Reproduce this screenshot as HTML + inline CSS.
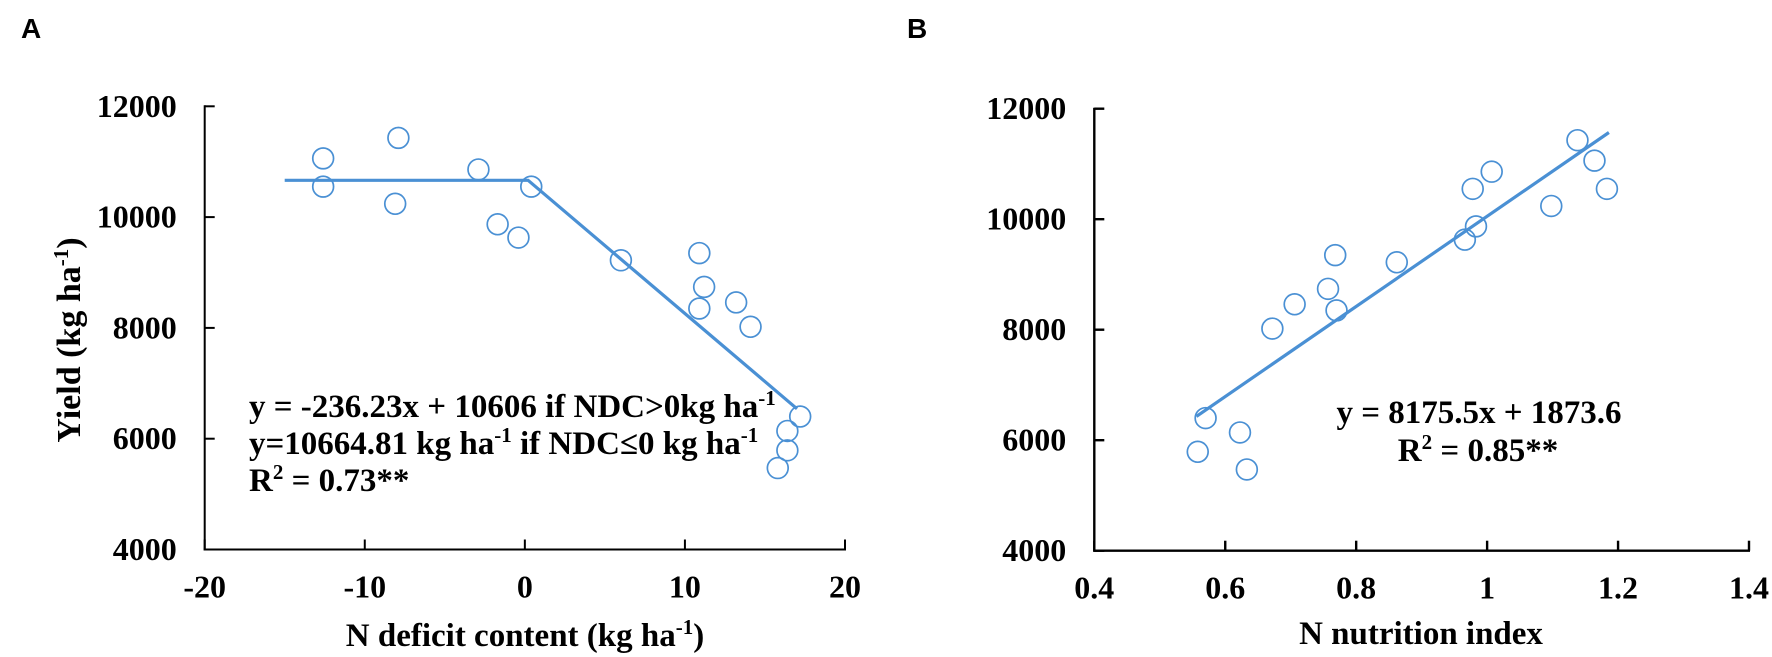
<!DOCTYPE html>
<html lang="en">
<head>
<meta charset="utf-8">
<title>Yield vs N deficit content and N nutrition index</title>
<style>
html,body{margin:0;padding:0;background:#fff;width:1772px;height:657px;overflow:hidden}
svg{display:block}
text{font-family:"Liberation Serif",serif;font-weight:bold;fill:#000}
.panel{font-family:"Liberation Sans",sans-serif;font-size:28px}
.tick{font-size:32px}
.title{font-size:33px}
.ytitle{font-size:34px}
.note{font-size:33px}
</style>
</head>
<body>
<svg id="chart" xmlns="http://www.w3.org/2000/svg" width="1772" height="657" viewBox="0 0 1772 657">
  <rect width="1772" height="657" fill="#fff"/>
  <text class="panel" x="21" y="38">A</text>
  <text class="panel" x="907" y="38">B</text>

  <g id="panelA"></g>
  <g id="panelB"></g>

  <text class="ytitle" transform="translate(80,340) rotate(-90)" text-anchor="middle">Yield (kg ha<tspan font-size="21" dy="-12">-1</tspan><tspan dy="12">)</tspan></text>
  <text class="title" x="525" y="646" text-anchor="middle">N deficit content (kg ha<tspan font-size="21" dy="-12">-1</tspan><tspan dy="12">)</tspan></text>
  <text class="title" x="1421" y="644" text-anchor="middle">N nutrition index</text>

  <text class="note" x="249" y="417">y = -236.23x + 10606 if NDC&gt;0kg ha<tspan font-size="21" dy="-12">-1</tspan></text>
  <text class="note" x="249" y="454">y=10664.81 kg ha<tspan font-size="21" dy="-12">-1</tspan><tspan dy="12"> if NDC≤0 kg ha</tspan><tspan font-size="21" dy="-12">-1</tspan></text>
  <text class="note" x="249" y="491">R<tspan font-size="21" dy="-12">2</tspan><tspan dy="12"> = 0.73**</tspan></text>

  <text class="note" x="1479" y="423" text-anchor="middle">y = 8175.5x + 1873.6</text>
  <text class="note" x="1478" y="461" text-anchor="middle">R<tspan font-size="21" dy="-12">2</tspan><tspan dy="12"> = 0.85**</tspan></text>
</svg>
<script>
var yieldTicks = [4000, 6000, 8000, 10000, 12000];
var ndcTicks = [-20, -10, 0, 10, 20];
var nniTicks = [0.4, 0.6, 0.8, 1, 1.2, 1.4];
var nniTickLabels = ['0.4', '0.6', '0.8', '1', '1.2', '1.4'];
var ndcTickLabels = ['-20', '-10', '0', '10', '20'];
var yieldTickLabels = ['4000', '6000', '8000', '10000', '12000'];

var ndcValues = [-12.6, -12.6, -7.9, -8.1, -2.9, -1.7, -0.4, 0.4, 6.0, 10.9, 11.2, 10.9, 13.2, 14.1, 17.2, 16.4, 16.4, 15.8];
var yieldValuesA = [11060, 10550, 11430, 10240, 10860, 9870, 9630, 10550, 9220, 9350, 8740, 8350, 8460, 8020, 6400, 6140, 5790, 5470];
var nniValues = [1.164, 1.183, 1.138, 1.098, 1.007, 0.983, 0.966, 0.978, 0.862, 0.768, 0.757, 0.77, 0.706, 0.672, 0.57, 0.6225, 0.558, 0.633];
var yieldValuesB = [11060, 10550, 11430, 10240, 10860, 9870, 9630, 10550, 9220, 9350, 8740, 8350, 8460, 8020, 6400, 6140, 5790, 5470];

var fitLineAX = [-15, 0.2, 17];
var fitLineAY = [10665, 10665, 6540];
var fitLineBX = [0.556, 1.186];
var fitLineBY = [6430, 11570];

var NS = 'http://www.w3.org/2000/svg';
var BLUE = '#4a90d4';

function svgEl(parent, tag, attrs) {
  var el = document.createElementNS(NS, tag);
  for (var k in attrs) el.setAttribute(k, attrs[k]);
  parent.appendChild(el);
  return el;
}

function drawPanel(group, box, xTicks, xLabels, xs, ys, lineX, lineY, axisWidth, letter) {
  var xMin = xTicks[0], xMax = xTicks[xTicks.length - 1];
  var yMin = yieldTicks[0], yMax = yieldTicks[yieldTicks.length - 1];
  function sx(v) { return box.left + (v - xMin) / (xMax - xMin) * (box.right - box.left); }
  function sy(v) { return box.bottom - (v - yMin) / (yMax - yMin) * (box.bottom - box.top); }

  var yAxis = svgEl(group, 'line', {x1: box.left, x2: box.left, y1: box.top - 1, y2: box.bottom + 1, stroke: '#000', 'stroke-width': axisWidth});
  
  
  var xAxis = svgEl(group, 'line', {x1: box.left - 1, x2: box.right + 1, y1: box.bottom, y2: box.bottom, stroke: '#000', 'stroke-width': axisWidth});
  
  

  yieldTicks.forEach(function (t, i) {
    var mark = svgEl(group, 'line', {x1: box.left, x2: box.left + 10, y1: sy(t), y2: sy(t), stroke: '#000', 'stroke-width': axisWidth});
    
    
    var label = svgEl(group, 'text', {x: box.left - 28, y: sy(t) + 10.5, 'text-anchor': 'end', 'class': 'tick'});
    
    
    label.textContent = yieldTickLabels[i];
  });

  xTicks.forEach(function (t, i) {
    var mark = svgEl(group, 'line', {x1: sx(t), x2: sx(t), y1: box.bottom, y2: box.bottom - 10, stroke: '#000', 'stroke-width': axisWidth});
    
    
    var label = svgEl(group, 'text', {x: sx(t), y: box.bottom + 48, 'text-anchor': 'middle', 'class': 'tick'});
    
    
    label.textContent = xLabels[i];
  });

  var pts = lineX.map(function (v, i) { return sx(v).toFixed(1) + ',' + sy(lineY[i]).toFixed(1); }).join(' ');
  var fit = svgEl(group, 'polyline', {points: pts, fill: 'none', stroke: BLUE, 'stroke-width': 3.2});
  
  

  xs.forEach(function (v, i) {
    var c = svgEl(group, 'circle', {cx: sx(v), cy: sy(ys[i]), r: 10.4, fill: 'none', stroke: BLUE, 'stroke-width': 1.7});
    
    
  });
}

drawPanel(document.getElementById('panelA'), {left: 204.7, right: 845, top: 106.3, bottom: 549.5},
  ndcTicks, ndcTickLabels, ndcValues, yieldValuesA, fitLineAX, fitLineAY, 2, 'a');
drawPanel(document.getElementById('panelB'), {left: 1094.3, right: 1749, top: 108.7, bottom: 550.7},
  nniTicks, nniTickLabels, nniValues, yieldValuesB, fitLineBX, fitLineBY, 2.4, 'b');
</script>
</body>
</html>
